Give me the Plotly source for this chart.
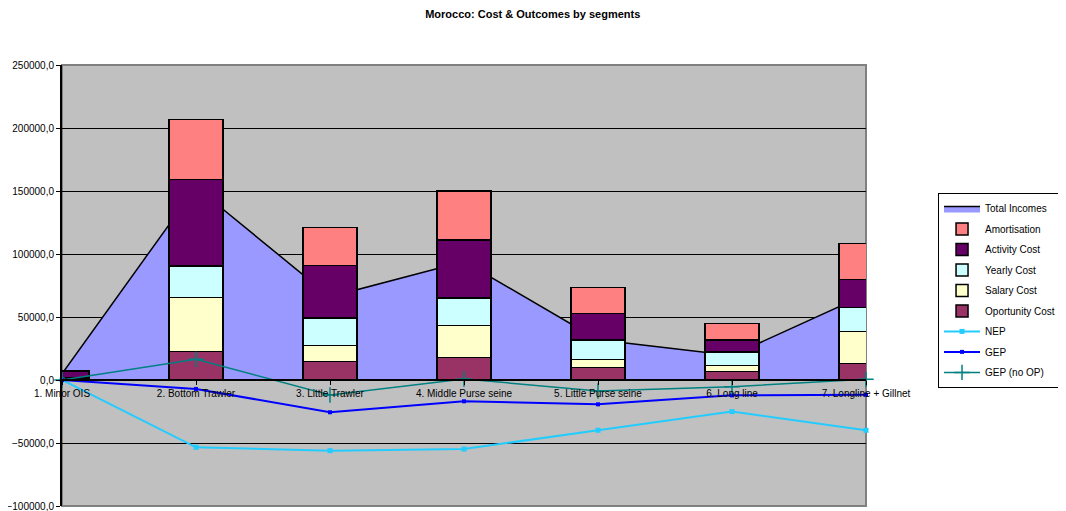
import plotly.graph_objects as go

# categories (fleet segments)
segments = [
    "1. Minor OIS",
    "2. Bottom Trawler",
    "3. Little Trawler",
    "4. Middle Purse seine",
    "5. Little Purse seine",
    "6. Long line",
    "7. Longline + Gillnet",
]
seg_pos = [0, 1, 2, 3, 4, 5, 6]

# cost components (stacked bottom -> top)
oportunity_cost = [800, 22500, 14550, 17700, 9760, 6590, 13250]
salary_cost = [600, 42800, 12970, 25400, 6350, 4760, 25080]
yearly_cost = [700, 25150, 21700, 22000, 15640, 10870, 19050]
activity_cost = [4500, 68800, 41800, 46000, 20870, 9530, 22540]
amortisation = [800, 47600, 30200, 39100, 20950, 13250, 28250]

# incomes (area) and outcomes (lines)
total_incomes = [5000, 153000, 66000, 94000, 32000, 19500, 68000]
nep = [0, -53400, -56100, -54800, -39900, -25100, -39900]
gep = [0, -7100, -25600, -16900, -19300, -12200, -11700]
gep_no_op = [0, 16400, -11900, 800, -8700, -5300, 500]

y_ticks = [-100000, -50000, 0, 50000, 100000, 150000, 200000, 250000]
y_range = [-100000, 250000]

FONT = "Arial, Liberation Sans, sans-serif"


def add_cost_bars(fig: go.Figure) -> go.Figure:
    """Adds the stacked cost bars on the overlaying axis so they sit above the income area."""
    bars = [
        ("Oportunity Cost", oportunity_cost, "#993366", 6),
        ("Salary Cost", salary_cost, "#FFFFCC", 5),
        ("Yearly Cost", yearly_cost, "#CCFFFF", 4),
        ("Activity Cost", activity_cost, "#660066", 3),
        ("Amortisation", amortisation, "#FF8080", 2),
    ]
    for name, values, color, rank in bars:
        fig.add_trace(
            go.Bar(
                x=seg_pos,
                y=values,
                name=name,
                width=0.4,
                marker=dict(color=color, line=dict(color="black", width=1.5)),
                yaxis="y2",
                legendrank=rank,
                legendgroup=name,
            )
        )
    return fig


def add_outcome_lines(fig: go.Figure) -> go.Figure:
    lines = [
        ("NEP", nep, "#22CCFF", dict(symbol="square", size=5), 2, 7),
        ("GEP", gep, "#0000FF", dict(symbol="square", size=4), 2, 8),
        ("GEP (no OP)", gep_no_op, "#008080",
         dict(symbol="cross-thin", size=11, line=dict(color="#008080", width=1.5)), 1.5, 9),
    ]
    for name, values, color, marker, width, rank in lines:
        fig.add_trace(
            go.Scatter(
                x=seg_pos,
                y=values,
                name=name,
                mode="lines+markers",
                line=dict(color=color, width=width),
                marker=dict(color=color, **marker),
                yaxis="y2",
                cliponaxis=False,
                legendrank=rank,
                legendgroup=name,
            )
        )
    return fig


fig = go.Figure()

# income area on the base axis (drawn below the bars of the overlay)
fig.add_trace(
    go.Scatter(
        x=seg_pos,
        y=total_incomes,
        name="Total Incomes",
        mode="lines",
        fill="tozeroy",
        fillcolor="#9999FF",
        line=dict(color="black", width=1.5),
        legendrank=1,
        legendgroup="Total Incomes",
    )
)

fig = add_cost_bars(fig)
fig = add_outcome_lines(fig)

zero_pos = (0 - y_range[0]) / (y_range[1] - y_range[0])

# page body has an 8px margin, so the figure is a little smaller than the window
fig.update_layout(
    width=1058,
    height=503,
    barmode="stack",
    separators=",.",
    paper_bgcolor="white",
    plot_bgcolor="#C0C0C0",
    margin=dict(l=54, r=200, t=57, b=5),
    font=dict(family=FONT, size=10, color="black"),
    title=dict(
        text="<b>Morocco: Cost & Outcomes by segments</b>",
        x=0.496,
        xref="container",
        xanchor="center",
        y=0.995,
        yanchor="top",
        font=dict(family=FONT, size=11, color="black"),
    ),
    legend=dict(
        x=1.0896,
        y=0.71,
        xanchor="left",
        yanchor="top",
        traceorder="grouped",
        bgcolor="white",
        bordercolor="black",
        borderwidth=1,
        itemwidth=36,
        font=dict(family=FONT, size=10, color="black"),
        tracegroupgap=1.5,
    ),
    showlegend=True,
)

fig.update_layout(
    xaxis=dict(
        range=[0, 6],
        tickvals=seg_pos,
        ticktext=segments,
        anchor="free",
        position=zero_pos,
        showline=True,
        linecolor="black",
        linewidth=2,
        ticks="outside",
        ticklen=4,
        tickcolor="black",
        showgrid=False,
        zeroline=False,
        tickfont=dict(family=FONT, size=10, color="black"),
    ),
    yaxis=dict(
        range=y_range,
        tickvals=y_ticks,
        tickformat=".1f",
        showline=True,
        linecolor="black",
        linewidth=2,
        ticks="outside",
        ticklen=4,
        tickcolor="black",
        showgrid=True,
        gridcolor="black",
        gridwidth=1,
        zeroline=False,
        automargin=False,
        ticklabeloverflow="allow",
        tickfont=dict(family=FONT, size=10, color="black"),
    ),
    yaxis2=dict(
        range=y_range,
        overlaying="y",
        anchor="x",
        visible=False,
    ),
)

# plot area frame (top / right / bottom in grey like the original)
fig.add_shape(
    type="rect", xref="paper", yref="paper", x0=0, x1=1, y0=0, y1=1,
    line=dict(color="#808080", width=2), layer="below",
)

fig.write_html("out.html")
